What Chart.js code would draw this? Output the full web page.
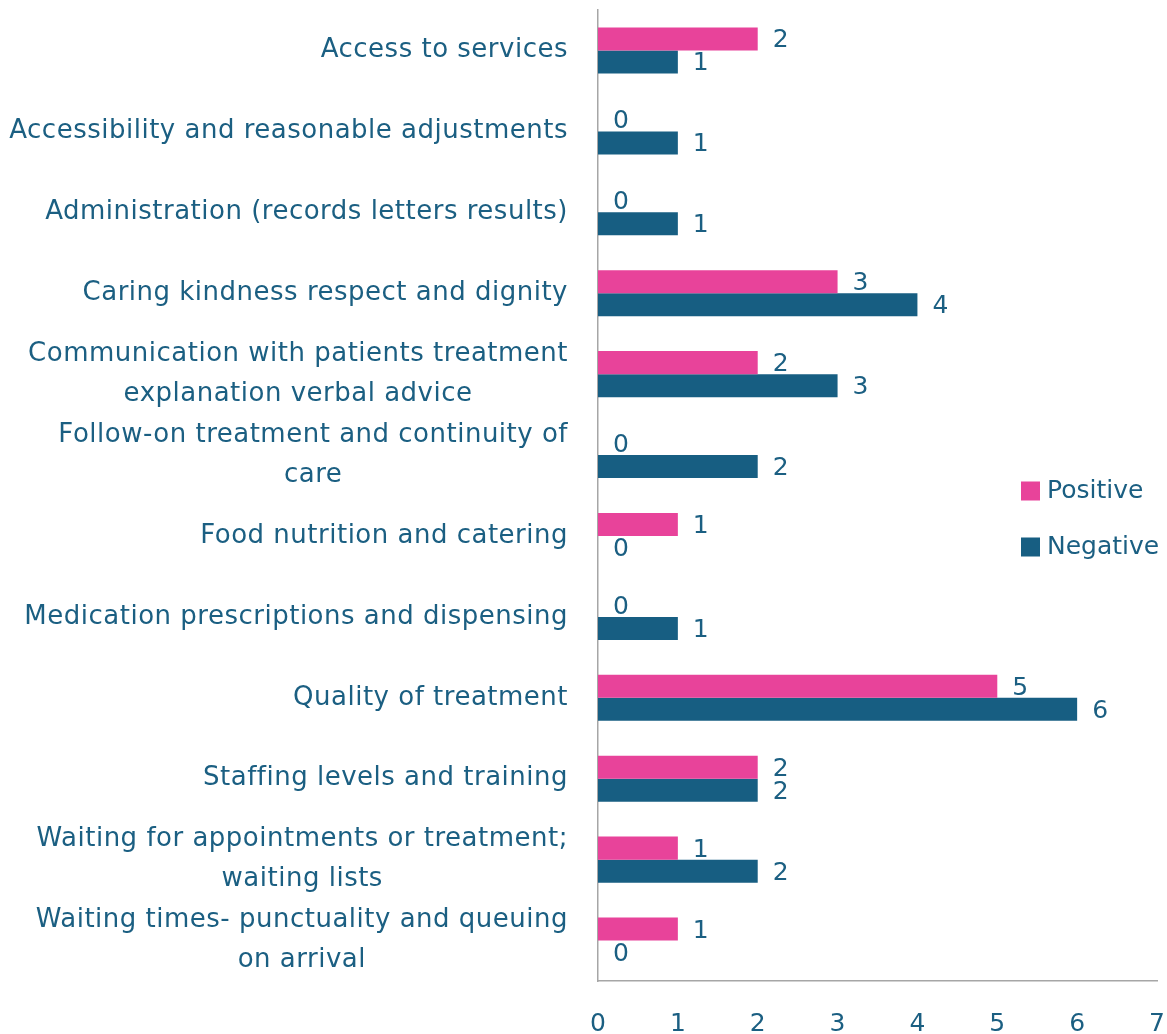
<!DOCTYPE html>
<html>
<head>
<meta charset="utf-8">
<script src="https://cdn.jsdelivr.net/npm/chart.js@4.4.0/dist/chart.umd.min.js"></script>
<style>
  html, body { margin: 0; padding: 0; background: #fff; overflow: hidden; }
  #wrap { width: 1167px; height: 1034px; position: relative; }
</style>
</head>
<body>
<div id="wrap"><canvas id="myChart"></canvas></div>
<script>
// categories (multi-line labels as arrays)
var categories = [
    ['Access to services'],
    ['Accessibility and reasonable adjustments'],
    ['Administration (records letters results)'],
    ['Caring kindness respect and dignity'],
    ['Communication with patients treatment', 'explanation verbal advice'],
    ['Follow-on treatment and continuity of', 'care'],
    ['Food nutrition and catering'],
    ['Medication prescriptions and dispensing'],
    ['Quality of treatment'],
    ['Staffing levels and training'],
    ['Waiting for appointments or treatment;', 'waiting lists'],
    ['Waiting times- punctuality and queuing', 'on arrival']
];
var positive = [2, 0, 0, 3, 2, 0, 1, 0, 5, 2, 1, 1];
var negative = [1, 1, 1, 4, 3, 2, 0, 1, 6, 2, 2, 0];
var xTicks = [0, 1, 2, 3, 4, 5, 6, 7];

var textColor = '#1b5f82';
var pink = '#e8439a';
var blue = '#175e82';
var fontFamily = "'DejaVu Sans', sans-serif";
var fontSize = 25;

//* y labels: right aligned block, lines centered inside block
var yLabelPlugin = {
    id: 'yLabels',
    afterDraw: function(chart) {
        var ctx = chart.ctx;
        var scale = chart.scales.y;
        var lineH = 40;
        ctx.save();
        ctx.font = '26px ' + fontFamily;
        ctx.letterSpacing = '0.5px';
        ctx.fillStyle = textColor;
        ctx.textAlign = 'center';
        ctx.textBaseline = 'middle';
        categories.forEach(function(lines, i) {
            var cy = scale.getPixelForTick(i);
            var maxW = 0;
            lines.forEach(function(l) { maxW = Math.max(maxW, ctx.measureText(l).width); });
            var cx = scale.right - 30 - maxW / 2;
            var top = cy - (lines.length - 1) * lineH / 2;
            lines.forEach(function(l, j) {
                ctx.fillText(l, cx, top + j * lineH);
            });
        });
        ctx.restore();
    }
};

//* value labels next to bar ends
var valueLabelPlugin = {
    id: 'valueLabels',
    afterDatasetsDraw: function(chart) {
        var ctx = chart.ctx;
        ctx.save();
        ctx.font = fontSize + 'px ' + fontFamily;
        ctx.fillStyle = textColor;
        ctx.textAlign = 'left';
        ctx.textBaseline = 'middle';
        chart.data.datasets.forEach(function(ds, di) {
            var meta = chart.getDatasetMeta(di);
            meta.data.forEach(function(bar, i) {
                ctx.fillText(String(ds.data[i]), bar.x + 15, bar.y + 2);
            });
        });
        ctx.restore();
    }
};

//* legend drawn inside the plot, right side
var legendPlugin = {
    id: 'customLegend',
    afterDraw: function(chart) {
        var ctx = chart.ctx;
        var area = chart.chartArea;
        var mid = (area.top + area.bottom) / 2;
        ctx.save();
        ctx.font = fontSize + 'px ' + fontFamily;
        ctx.textAlign = 'left';
        ctx.textBaseline = 'middle';
        chart.data.datasets.forEach(function(ds, i) {
            var y = mid - 5 + i * 56;
            var x = area.right - 136;
            ctx.fillStyle = ds.backgroundColor;
            ctx.fillRect(x, y - 9, 19, 19);
            ctx.fillStyle = textColor;
            ctx.fillText(ds.label, x + 26, y + 1);
        });
        ctx.restore();
    }
};

var ctx = document.getElementById('myChart').getContext('2d');
var myChart = new Chart(ctx, {
    type: 'bar',
    data: {
        labels: categories,
        datasets: [{
            label: 'Positive',
            data: positive,
            backgroundColor: pink,
            barPercentage: 1,
            categoryPercentage: 0.57
        }, {
            label: 'Negative',
            data: negative,
            backgroundColor: blue,
            barPercentage: 1,
            categoryPercentage: 0.57
        }]
    },
    options: {
        indexAxis: 'y',
        responsive: true,
        maintainAspectRatio: false,
        animation: false,
        layout: {
            padding: { top: 10, right: 10, bottom: 0, left: 0 }
        },
        plugins: {
            legend: { display: false },
            tooltip: { enabled: false }
        },
        scales: {
            x: {
                min: 0,
                max: 7,
                afterBuildTicks: function(scale) {
                    scale.ticks = xTicks.map(function(v) { return { value: v }; });
                },
                grid: { display: false, drawTicks: false },
                border: { display: true, color: '#a6a6a6', width: 1.5 },
                ticks: {
                    color: textColor,
                    padding: 28,
                    maxRotation: 0,
                    font: { family: fontFamily, size: fontSize }
                },
                afterFit: function(scale) {
                    scale.height = 53;
                    scale.paddingLeft = 0;
                    scale.paddingRight = 0;
                }
            },
            y: {
                grid: { display: false, drawTicks: false },
                border: { display: true, color: '#a6a6a6', width: 1.5 },
                ticks: { display: false },
                afterFit: function(scale) {
                    scale.width = 598;
                }
            }
        }
    },
    plugins: [yLabelPlugin, valueLabelPlugin, legendPlugin]
});
</script>
</body>
</html>
